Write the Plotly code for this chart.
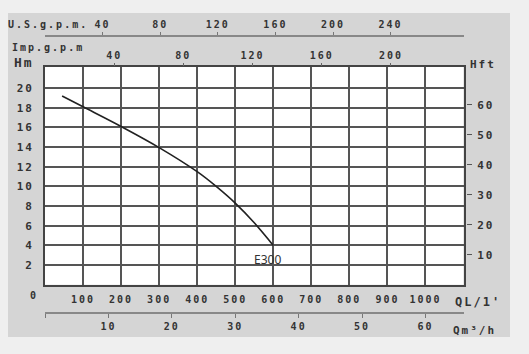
import plotly.graph_objects as go

# ---------------- data ----------------
Q_LPM = [45, 100, 200, 300, 400, 450, 500, 550, 600]          # flow, l/min
H_M = [19.2, 18.1, 16.1, 13.95, 11.5, 10.0, 8.3, 6.3, 4.0]     # head, m
CURVE_NAME = "E300"

Q_TICKS = [100, 200, 300, 400, 500, 600, 700, 800, 900, 1000]
H_TICKS = [2, 4, 6, 8, 10, 12, 14, 16, 18, 20]
HFT_TICKS = [10, 20, 30, 40, 50, 60]
USGPM_TICKS = [40, 80, 120, 160, 200, 240]
IMPGPM_TICKS = [40, 80, 120, 160, 200]
M3H_TICKS = [0, 10, 20, 30, 40, 50, 60]
M3H_TEXT = ["", "10", "20", "30", "40", "50", "60"]

# unit conversions
L_PER_USGAL = 3.785
L_PER_IMPGAL = 4.546
LPM_PER_M3H = 1000 / 60
FT_PER_M = 3.28084

Q_RANGE = [0, 1100]
H_RANGE = [0, 22.2]

# ---------------- layout helpers ----------------
W, H = 529, 354


def px(x):
    return x / W


def py(y):
    return 1 - y / H


TXT = "#333333"
GRID = "#555555"
MONO = "DejaVu Sans Mono"
tick_font = dict(family=MONO, size=10, color=TXT, weight="bold")
ytick_font = dict(family=MONO, size=11, color=TXT, weight="bold")

fig = go.Figure()
fig.add_trace(go.Scatter(x=Q_LPM, y=H_M, mode="lines",
                         line=dict(color="#222222", width=1.6, shape="spline",
                                   smoothing=1.0),
                         showlegend=False, hoverinfo="skip"))
# empty traces so that the extra axes get drawn
for xa, ya in [("x2", "y"), ("x3", "y"), ("x4", "y"), ("x", "y2")]:
    fig.add_trace(go.Scatter(x=[], y=[], xaxis=xa, yaxis=ya, showlegend=False,
                             hoverinfo="skip"))

x_dom = [px(45), px(463.5)]
y_dom = [py(284.7), py(66.5)]

fig.update_layout(
    width=W, height=H,
    margin=dict(l=0, r=0, t=0, b=0),
    paper_bgcolor="#efefef",
    plot_bgcolor="white",
    showlegend=False,
    xaxis=dict(domain=x_dom, range=Q_RANGE, tickvals=Q_TICKS,
               showgrid=True, gridcolor=GRID, gridwidth=1.5,
               showline=True, mirror=True, linecolor="#444444", linewidth=1.7,
               zeroline=False, ticks="", tickfont=tick_font,
               ticklabelstandoff=4, automargin=False),
    yaxis=dict(domain=y_dom, range=H_RANGE, tickvals=H_TICKS,
               showgrid=True, gridcolor=GRID, gridwidth=1.5,
               showline=True, mirror=True, linecolor="#444444", linewidth=1.7,
               zeroline=False, ticks="", tickfont=ytick_font,
               ticklabelstandoff=7, automargin=False),
    yaxis2=dict(overlaying="y", anchor="free", position=px(466), side="right",
                range=[H_RANGE[0] * FT_PER_M, H_RANGE[1] * FT_PER_M],
                tickvals=HFT_TICKS, ticks="outside", ticklen=5, tickwidth=1.2,
                tickcolor="#555555", showgrid=False, showline=False,
                zeroline=False, tickfont=ytick_font, ticklabelstandoff=3,
                automargin=False),
    xaxis2=dict(overlaying="x", anchor="y", side="top",
                range=[Q_RANGE[0] / L_PER_IMPGAL, Q_RANGE[1] / L_PER_IMPGAL],
                tickvals=IMPGPM_TICKS, ticks="outside", ticklen=3, tickwidth=1.2,
                tickcolor="#666666", showgrid=False, showline=False,
                zeroline=False, tickfont=tick_font, automargin=False),
    xaxis3=dict(overlaying="x", anchor="free", position=py(36), side="top",
                range=[Q_RANGE[0] / L_PER_USGAL, Q_RANGE[1] / L_PER_USGAL],
                tickvals=USGPM_TICKS, ticks="outside", ticklen=3, tickwidth=1.2,
                tickcolor="#777777", showgrid=False, showline=True,
                linecolor="#888888", linewidth=1.6,
                zeroline=False, tickfont=tick_font, automargin=False),
    xaxis4=dict(overlaying="x", anchor="free", position=py(313), side="bottom",
                range=[Q_RANGE[0] / LPM_PER_M3H, Q_RANGE[1] / LPM_PER_M3H],
                tickvals=M3H_TICKS, ticktext=M3H_TEXT, ticks="outside",
                ticklen=4, tickwidth=1.2, tickcolor="#777777",
                showgrid=False, showline=True, linecolor="#888888", linewidth=1.6,
                zeroline=False, tickfont=tick_font, automargin=False),
)

# gray panel and white plot area
fig.add_shape(type="rect", xref="paper", yref="paper",
              x0=px(8), x1=px(510), y0=py(337), y1=py(13),
              fillcolor="#d5d5d5", line_width=0, layer="below")
fig.add_shape(type="rect", xref="paper", yref="paper",
              x0=x_dom[0], x1=x_dom[1], y0=y_dom[0], y1=y_dom[1],
              fillcolor="white", line_width=0, layer="below")


def label(text, x, y, size=10, anchor="left"):
    fig.add_annotation(text=text, xref="paper", yref="paper", x=px(x), y=py(y),
                       xanchor=anchor, yanchor="middle", showarrow=False,
                       font=dict(family=MONO, size=size, color=TXT, weight="bold"))


label("U.S.g.p.m.", 16, 25)
label("Imp.g.p.m", 19, 48)
label("Hm", 14, 63, size=13)
label("Hft", 471, 64, size=11)
label("QL/1'", 458, 302, size=12)
label("Qm³/h", 456, 330, size=11)
label("0", 34, 295, anchor="center")

fig.add_annotation(text=CURVE_NAME, x=Q_LPM[-1], y=H_M[-1], xref="x", yref="y",
                   xanchor="center", yanchor="top", xshift=-6, yshift=-4,
                   showarrow=False,
                   font=dict(family="Noto Sans", size=12, color="#333333"))

POST = """
var gd = document.getElementById('{plot_id}');
function spacing(){
  gd.querySelectorAll('text').forEach(function(t){
    var ff = t.style.fontFamily || '';
    if (ff.indexOf('Mono') >= 0) { t.style.letterSpacing = '2px'; }
  });
}
spacing();
if (gd.on) { gd.on('plotly_afterplot', spacing); }
"""

fig.write_html("out.html", post_script=POST)
